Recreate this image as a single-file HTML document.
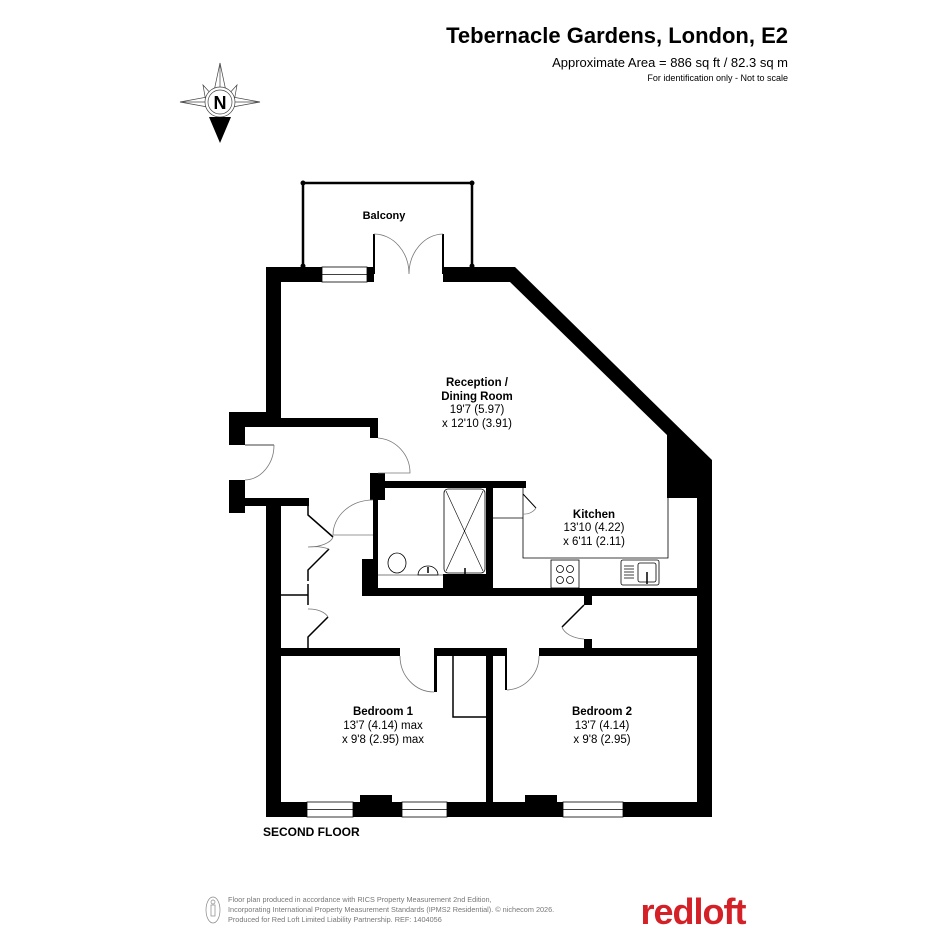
<!DOCTYPE html>
<html><head><meta charset="utf-8"><style>
html,body{margin:0;padding:0;background:#fff;}
svg{display:block;font-family:"Liberation Sans",Arial,sans-serif;}
</style></head><body>
<svg width="945" height="945" viewBox="0 0 945 945" xmlns="http://www.w3.org/2000/svg">
<rect width="945" height="945" fill="#fff"/>
<text x="788" y="43" font-size="22" font-weight="bold" text-anchor="end" fill="#000">Tebernacle Gardens, London, E2</text>
<text x="788" y="67" font-size="13" text-anchor="end" fill="#000">Approximate Area = 886 sq ft / 82.3 sq m</text>
<text x="788" y="81" font-size="9" text-anchor="end" fill="#000">For identification only - Not to scale</text>

<g stroke="#444" stroke-width="0.7" fill="none">
<polygon points="220,63 227,96 260,102 227,108 220,120 213,108 180,102 213,96"/>
<line x1="220" y1="63" x2="220" y2="88"/><line x1="180" y1="102" x2="206" y2="102"/><line x1="260" y1="102" x2="234" y2="102"/>
<polygon points="203,85 213,96 206,102" /><polygon points="237,85 227,96 234,102"/>
<circle cx="220" cy="102" r="15" fill="#fff"/><circle cx="220" cy="102" r="12"/>
</g>
<polygon points="209,117 231,117 220,143" fill="#000"/>
<text x="220" y="109" font-size="18" font-weight="bold" text-anchor="middle">N</text>

<g stroke="#000" stroke-width="2.5" fill="none">
<polyline points="303,267 303,183 472,183 472,267"/>
</g>
<circle cx="303" cy="183" r="2.5"/><circle cx="472" cy="183" r="2.5"/><circle cx="303" cy="266" r="2.5"/><circle cx="472" cy="266" r="2.5"/>
<text x="384" y="219" font-size="11" font-weight="bold" text-anchor="middle">Balcony</text>

<g fill="#000">
<rect x="266" y="267" width="56" height="15"/>
<rect x="367" y="267" width="7" height="15"/>
<rect x="443" y="267" width="72" height="15"/>
<polygon points="515,267 712,460 712,498 667,498 667,435 510,282 515,282"/>
<rect x="266" y="267" width="15" height="160"/>
<rect x="229" y="412" width="52" height="15"/>
<rect x="229" y="412" width="16" height="33"/>
<rect x="229" y="480" width="16" height="33"/>
<rect x="229" y="498" width="80" height="8"/>
<rect x="266" y="498" width="15" height="319"/>
<rect x="281" y="418" width="97" height="9"/>
<rect x="370" y="418" width="8" height="20"/>
<rect x="370" y="473" width="15" height="27"/>
<rect x="373" y="500" width="5" height="35"/>
<rect x="373" y="535" width="5" height="24"/>
<rect x="362" y="559" width="16" height="37"/>
<rect x="378" y="481" width="148" height="7"/>
<rect x="486" y="481" width="7" height="109"/>
<rect x="443" y="574" width="50" height="16"/>
<rect x="362" y="588" width="335" height="8"/>
<rect x="697" y="460" width="15" height="357"/>
<rect x="584" y="596" width="8" height="9"/>
<rect x="584" y="639" width="8" height="9"/>
<rect x="281" y="648" width="119" height="8"/>
<rect x="434" y="648" width="71" height="8"/>
<rect x="539" y="648" width="158" height="8"/>
<rect x="434" y="648" width="3" height="44"/>
<rect x="505" y="648" width="2" height="42"/>
<rect x="486" y="648" width="7" height="160"/>
<rect x="266" y="802" width="446" height="15"/>
<rect x="360" y="795" width="32" height="10"/>
<rect x="525" y="795" width="32" height="10"/>
</g>
<g fill="#fff" stroke="#000" stroke-width="0.8">
<rect x="322" y="267" width="45" height="15"/><line x1="322" y1="274.5" x2="367" y2="274.5"/>
<rect x="307" y="802" width="46" height="15"/><line x1="307" y1="809.5" x2="353" y2="809.5"/>
<rect x="402" y="802" width="45" height="15"/><line x1="402" y1="809.5" x2="447" y2="809.5"/>
<rect x="563" y="802" width="60" height="15"/><line x1="563" y1="809.5" x2="623" y2="809.5"/>
</g>
<g stroke="#000" fill="none">
<line x1="374" y1="234" x2="374" y2="274" stroke-width="2"/>
<line x1="443" y1="234" x2="443" y2="274" stroke-width="2"/>
<path d="M374,234 A35,40 0 0 1 409,274 M443,234 A35,40 0 0 0 409,274" stroke="#777" stroke-width="0.8"/>
<line x1="245" y1="445" x2="274" y2="445" stroke-width="0.8"/>
<path d="M274,445 A30,35 0 0 1 245,480" stroke="#777" stroke-width="0.8"/>
<path d="M378,438 A35,35 0 0 1 410,473 L378,473" stroke="#777" stroke-width="0.8"/>
<path d="M373,500 A40,35 0 0 0 333,535 L373,535" stroke="#777" stroke-width="0.8"/>
<polyline points="308,506 308,515 333,537" stroke-width="1.5"/>
<polyline points="308,581 308,570 329,549" stroke-width="1.5"/>
<path d="M308,547 A25,12 0 0 0 333,537 M308,547 A25,12 0 0 1 329,549" stroke="#777" stroke-width="0.8"/>
<line x1="281" y1="595" x2="308" y2="595" stroke-width="1.5"/>
<polyline points="308,584 308,605" stroke-width="1.5"/>
<polyline points="308,648 308,637 328,617" stroke-width="1.5"/>
<path d="M308,609 A20,12 0 0 1 328,617" stroke="#777" stroke-width="0.8"/>
<polyline points="523,488 523,558 668,558 668,498" stroke-width="0.8"/>
<line x1="493" y1="518" x2="523" y2="518" stroke-width="0.8"/>
<polyline points="523,494 536,508" stroke-width="1"/>
<path d="M536,508 A14,14 0 0 1 523,514" stroke="#777" stroke-width="0.7"/>
<rect x="551" y="560" width="28" height="28" stroke-width="0.8"/>
<circle cx="560" cy="569" r="3.5" stroke-width="0.8"/><circle cx="570" cy="569" r="3.5" stroke-width="0.8"/>
<circle cx="560" cy="580" r="3.5" stroke-width="0.8"/><circle cx="570" cy="580" r="3.5" stroke-width="0.8"/>
<rect x="621" y="560" width="38" height="25" rx="2" stroke-width="0.8"/>
<rect x="638" y="563" width="18" height="19" rx="2" stroke-width="0.8"/>
<path d="M624,566 h10 M624,569 h10 M624,572 h10 M624,575 h10 M624,578 h10" stroke-width="0.7"/>
<line x1="647" y1="572" x2="647" y2="584" stroke-width="1.5"/>
<rect x="444" y="489" width="41" height="84" rx="4" stroke-width="0.8"/>
<line x1="446" y1="491" x2="483" y2="571" stroke-width="0.6"/><line x1="483" y1="491" x2="446" y2="571" stroke-width="0.6"/>
<ellipse cx="397" cy="563" rx="9" ry="10" stroke-width="0.8"/>
<path d="M418,575 A10,9 0 0 1 438,575 Z" stroke-width="0.8"/>
<line x1="428" y1="567" x2="428" y2="573" stroke-width="1.5"/>
<line x1="465" y1="568" x2="465" y2="574" stroke-width="1.5"/>
<line x1="378" y1="575" x2="443" y2="575" stroke-width="0.6"/>
<path d="M400,656 A34,36 0 0 0 434,692" stroke="#777" stroke-width="0.8"/>
<path d="M539,656 A34,34 0 0 1 507,690" stroke="#777" stroke-width="0.8"/>
<polyline points="453,656 453,717 486,717" stroke-width="1.5"/>
<line x1="584" y1="605" x2="562" y2="627" stroke-width="1.5"/>
<path d="M562,627 A25,15 0 0 0 584,639" stroke="#777" stroke-width="0.8"/>
</g>

<g font-size="11.5" text-anchor="middle" fill="#000">
<text x="477" y="386" font-weight="bold">Reception /</text>
<text x="477" y="400" font-weight="bold">Dining Room</text>
<text x="477" y="413">19'7 (5.97)</text>
<text x="477" y="427">x 12'10 (3.91)</text>
<text x="594" y="518" font-weight="bold">Kitchen</text>
<text x="594" y="531">13'10 (4.22)</text>
<text x="594" y="545">x 6'11 (2.11)</text>
<text x="383" y="715" font-weight="bold">Bedroom 1</text>
<text x="383" y="729">13'7 (4.14) max</text>
<text x="383" y="743">x 9'8 (2.95) max</text>
<text x="602" y="715" font-weight="bold">Bedroom 2</text>
<text x="602" y="729">13'7 (4.14)</text>
<text x="602" y="743">x 9'8 (2.95)</text>
</g>
<text x="263" y="836" font-size="12" font-weight="bold">SECOND FLOOR</text>

<g stroke="#888" fill="none" stroke-width="0.7">
<ellipse cx="213" cy="910" rx="7" ry="13"/>
<circle cx="213" cy="902" r="2"/><rect x="211" y="905" width="4" height="11"/>
</g>
<g font-size="7.3" fill="#777">
<text x="228" y="902">Floor plan produced in accordance with RICS Property Measurement 2nd Edition,</text>
<text x="228" y="912">Incorporating International Property Measurement Standards (IPMS2 Residential).   © nichecom 2026.</text>
<text x="228" y="922">Produced for Red Loft Limited Liability Partnership.   REF: 1404056</text>
</g>
<text x="693" y="924" font-size="36" font-weight="bold" fill="#d42027" text-anchor="middle" letter-spacing="-1">redloft</text>
</svg>
</body></html>
